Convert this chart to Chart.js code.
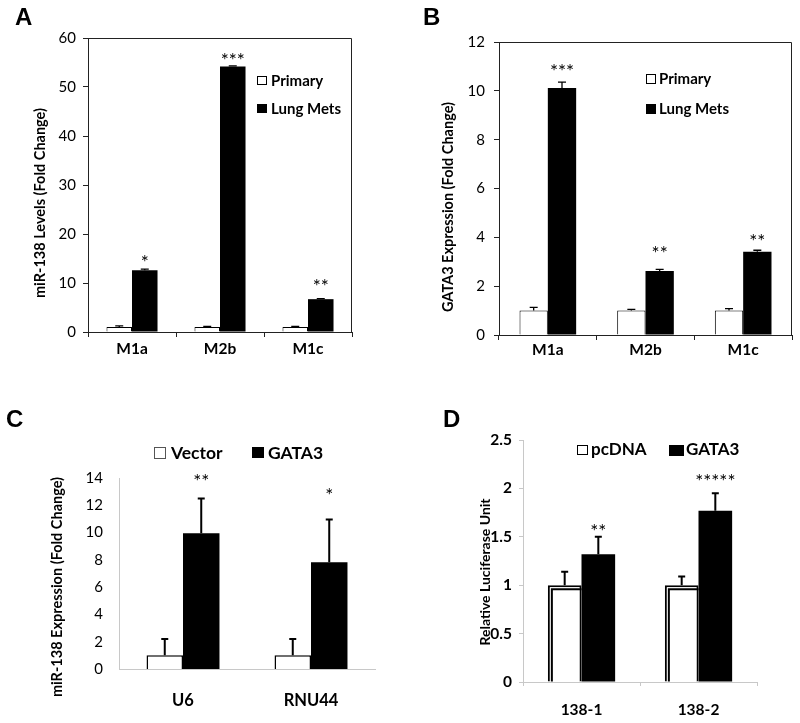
<!DOCTYPE html>
<html><head><meta charset="utf-8">
<script src="https://cdn.jsdelivr.net/npm/chart.js@4.4.1/dist/chart.umd.min.js"></script>
<style>
html,body{margin:0;padding:0;background:#fff;}
#wrap{position:relative;width:800px;height:723px;overflow:hidden;background:#fff;}
canvas{position:absolute;}
.lt{position:absolute;font-family:'Liberation Sans',Arial,sans-serif;font-weight:bold;font-size:24px;line-height:1;color:#000;}
</style></head><body>
<div id="wrap">
<canvas id="cA" width="400" height="360" style="left:0;top:0;width:400px;height:360px"></canvas>
<canvas id="cB" width="400" height="360" style="left:400px;top:0;width:400px;height:360px"></canvas>
<canvas id="cC" width="400" height="363" style="left:0;top:360px;width:400px;height:363px"></canvas>
<canvas id="cD" width="400" height="363" style="left:400px;top:360px;width:400px;height:363px"></canvas>
<div class="lt" style="left:15px;top:5px">A</div>
<div class="lt" style="left:423px;top:5px">B</div>
<div class="lt" style="left:6px;top:407px">C</div>
<div class="lt" style="left:443px;top:407px">D</div>
</div>
<script>
// ---------- DATA ----------
// Panel A
const categoriesA = ['M1a', 'M2b', 'M1c'];
const primaryA = [1, 1, 1];
const primaryErrA = [0.25, 0.12, 0.15];
const lungMetsA = [12.6, 54.2, 6.7];
const lungMetsErrA = [0.25, 0.1, 0.1];
const starsA = ['*', '***', '**'];
const starAnchorA = [15.0, 56.1, 10.1];
const yTicksA = { min: 0, max: 60, step: 10 };

// Panel B
const categoriesB = ['M1a', 'M2b', 'M1c'];
const primaryB = [1, 1, 1];
const primaryErrB = [0.13, 0.05, 0.08];
const lungMetsB = [10.12, 2.62, 3.41];
const lungMetsErrB = [0.24, 0.07, 0.06];
const starsB = ['***', '**', '**'];
const starAnchorB = [10.92, 3.48, 3.97];
const yTicksB = { min: 0, max: 12, step: 2 };

// Panel C
const categoriesC = ['U6', 'RNU44'];
const vectorC = [1, 1];
const vectorErrC = [1.2, 1.2];
const gata3C = [9.95, 7.82];
const gata3ErrC = [2.55, 3.13];
const starsC = ['**', '*'];
const starAnchorC = [14.02, 13.0];
const yTicksC = { min: 0, max: 14, step: 2 };

// Panel D
const categoriesD = ['138-1', '138-2'];
const pcdnaD = [1, 1];
const pcdnaErrD = [0.14, 0.09];
const gata3D = [1.32, 1.77];
const gata3ErrD = [0.18, 0.18];
const starsD = ['**', '*****'];
const starAnchorD = [1.59, 2.11];
const yTicksD = { min: 0, max: 2.5, step: 0.5 };

// ---------- DECORATION PLUGIN ----------
const decorPlugin = {
  id: 'decor',
  afterDatasetsDraw(chart, args, o) {
    const ctx = chart.ctx, ys = chart.scales.y, ca = chart.chartArea;
    ctx.save();
    if (o.frame) {
      ctx.strokeStyle = o.frame; ctx.lineWidth = 1;
      ctx.beginPath();
      ctx.moveTo(Math.round(ca.left) + 0.5, Math.round(ca.top) + 0.5);
      ctx.lineTo(Math.round(ca.right) - 0.5, Math.round(ca.top) + 0.5);
      ctx.lineTo(Math.round(ca.right) - 0.5, Math.round(ca.bottom));
      ctx.stroke();
    }
    chart.data.datasets.forEach((ds, di) => {
      const meta = chart.getDatasetMeta(di);
      meta.data.forEach((el, i) => {
        const p = el.getProps(['x', 'y', 'base', 'width'], true);
        if (ds.innerLine) {
          const off = ds.innerLine;
          const left = p.x - p.width / 2, right = p.x + p.width / 2;
          ctx.strokeStyle = '#000'; ctx.lineWidth = 2;
          ctx.beginPath();
          ctx.moveTo(left + off + 1, p.base);
          ctx.lineTo(left + off + 1, p.y + off + 1);
          ctx.lineTo(right, p.y + off + 1);
          ctx.stroke();
        }
        if (ds.errors) {
          const yTop = ys.getPixelForValue(ds.data[i] + ds.errors[i]);
          ctx.strokeStyle = '#000'; ctx.lineWidth = o.errWidth;
          ctx.beginPath();
          ctx.moveTo(p.x, p.y);
          ctx.lineTo(p.x, yTop);
          ctx.moveTo(p.x - o.capWidth / 2, yTop);
          ctx.lineTo(p.x + o.capWidth / 2, yTop);
          ctx.stroke();
        }
      });
    });
    ctx.restore();
  },
  afterDraw(chart, args, o) {
    const ctx = chart.ctx, ys = chart.scales.y;
    ctx.save();
    if (o.stars) {
      const meta = chart.getDatasetMeta(o.stars.dataset);
      ctx.font = o.stars.font; ctx.fillStyle = '#000';
      ctx.textAlign = 'center'; ctx.textBaseline = 'middle';
      o.stars.labels.forEach((s, i) => {
        const x = meta.data[i].x;
        const y = ys.getPixelForValue(o.stars.anchors[i]);
        ctx.fillText(s, x, y + o.stars.dy);
      });
    }
    if (o.legend) {
      ctx.font = o.legend.font; ctx.textAlign = 'left'; ctx.textBaseline = 'middle';
      o.legend.items.forEach(it => {
        const ds = chart.data.datasets[it.ds];
        ctx.fillStyle = ds.backgroundColor;
        ctx.fillRect(it.bx, it.by, it.bw, it.bh);
        ctx.strokeStyle = it.stroke; ctx.lineWidth = 1;
        ctx.strokeRect(it.bx + 0.5, it.by + 0.5, it.bw - 1, it.bh - 1);
        ctx.fillStyle = '#000';
        ctx.fillText(ds.label, it.tx, it.ty);
      });
    }
    if (o.yTitle) {
      ctx.translate(o.yTitle.x, o.yTitle.y);
      ctx.rotate(-Math.PI / 2);
      ctx.font = o.yTitle.font; ctx.fillStyle = '#000';
      ctx.textAlign = 'center'; ctx.textBaseline = 'middle';
      ctx.fillText(o.yTitle.text, 0, 0);
    }
    ctx.restore();
  }
};

function panel(id, o) {
  const W = o.w, H = o.h, ca = o.area, xH = o.xAxisH;
  return new Chart(document.getElementById(id), {
    type: 'bar',
    data: { labels: o.labels, datasets: o.datasets },
    options: {
      responsive: false, animation: false, devicePixelRatio: 1,
      layout: { padding: { left: 0, top: ca.t, right: W - ca.r, bottom: H - ca.b - xH } },
      plugins: { legend: { display: false }, tooltip: { enabled: false }, decor: o.decor },
      datasets: { bar: { categoryPercentage: o.catPct, barPercentage: 1 } },
      scales: {
        x: {
          afterFit: s => { s.height = xH; },
          grid: { display: o.xTicks.len > 0, drawOnChartArea: false, drawTicks: true, tickLength: o.xTicks.len, color: o.axisColor, offset: true },
          border: { display: true, color: o.axisColor, width: 1 },
          ticks: { font: o.xTicks.font, color: '#000', padding: o.xTicks.pad }
        },
        y: {
          min: o.yTicks.min, max: o.yTicks.max,
          afterFit: s => { s.width = ca.l; },
          grid: { display: o.yTickLen > 0, drawOnChartArea: false, drawTicks: true, tickLength: o.yTickLen, color: o.axisColor },
          border: { display: true, color: o.axisColor, width: 1 },
          ticks: { stepSize: o.yTicks.step, font: o.yFont, color: '#000', padding: o.yPad,
                   callback: v => String(Math.round(v * 100) / 100) }
        }
      }
    },
    plugins: [decorPlugin]
  });
}

const F = 'Lato, "Open Sans", sans-serif';

// Panel A
panel('cA', {
  w: 400, h: 360, area: { l: 88, t: 38, r: 352, b: 332 }, xAxisH: 22, catPct: 0.58,
  axisColor: '#222', yTickLen: 5, yPad: 7, yTicks: yTicksA,
  yFont: { family: F, size: 15 },
  xTicks: { len: 5, pad: 3, font: { family: F, size: 15.5, weight: 'bold' } },
  labels: categoriesA,
  datasets: [
    { label: 'Primary', data: primaryA, errors: primaryErrA, backgroundColor: '#fff', borderColor: '#000', borderWidth: 1 },
    { label: 'Lung Mets', data: lungMetsA, errors: lungMetsErrA, backgroundColor: '#000', borderColor: '#000', borderWidth: 0 }
  ],
  decor: {
    frame: '#222', errWidth: 1.3, capWidth: 8,
    stars: { dataset: 1, labels: starsA, anchors: starAnchorA, font: '19px ' + F, dy: 4 },
    legend: { font: 'bold 15px ' + F, items: [
      { ds: 0, bx: 257, by: 76, bw: 10, bh: 9, tx: 271, ty: 81, stroke: '#000' },
      { ds: 1, bx: 257, by: 104, bw: 10, bh: 9, tx: 271, ty: 109, stroke: '#000' }
    ] },
    yTitle: { text: 'miR-138 Levels (Fold Change)', x: 40, y: 203, font: 'bold 14.5px ' + F }
  }
});

// Panel B
panel('cB', {
  w: 400, h: 360, area: { l: 99, t: 42, r: 392, b: 335 }, xAxisH: 22, catPct: 0.58,
  axisColor: '#222', yTickLen: 5, yPad: 9, yTicks: yTicksB,
  yFont: { family: F, size: 15 },
  xTicks: { len: 5, pad: 1, font: { family: F, size: 15.5, weight: 'bold' } },
  labels: categoriesB,
  datasets: [
    { label: 'Primary', data: primaryB, errors: primaryErrB, backgroundColor: '#fff', borderColor: '#000', borderWidth: 1 },
    { label: 'Lung Mets', data: lungMetsB, errors: lungMetsErrB, backgroundColor: '#000', borderColor: '#000', borderWidth: 0 }
  ],
  decor: {
    frame: '#222', errWidth: 1.3, capWidth: 8,
    stars: { dataset: 1, labels: starsB, anchors: starAnchorB, font: '19px ' + F, dy: 4 },
    legend: { font: 'bold 15px ' + F, items: [
      { ds: 0, bx: 246, by: 74, bw: 10, bh: 10, tx: 259, ty: 79, stroke: '#000' },
      { ds: 1, bx: 246, by: 104, bw: 10, bh: 10, tx: 259, ty: 109, stroke: '#000' }
    ] },
    yTitle: { text: 'GATA3 Expression (Fold Change)', x: 48, y: 207, font: 'bold 14.5px ' + F }
  }
});

// Panel C
panel('cC', {
  w: 400, h: 363, area: { l: 119, t: 118, r: 375, b: 309 }, xAxisH: 45, catPct: 0.57,
  axisColor: '#c8c8c8', yTickLen: 0, yPad: 16, yTicks: yTicksC,
  yFont: { family: F, size: 15 },
  xTicks: { len: 0, pad: 22, font: { family: F, size: 16.5, weight: 'bold' } },
  labels: categoriesC,
  datasets: [
    { label: 'Vector', data: vectorC, errors: vectorErrC, backgroundColor: '#fff', borderColor: '#000', borderWidth: 1.5 },
    { label: 'GATA3', data: gata3C, errors: gata3ErrC, backgroundColor: '#000', borderColor: '#000', borderWidth: 0 }
  ],
  decor: {
    errWidth: 2, capWidth: 7,
    stars: { dataset: 1, labels: starsC, anchors: starAnchorC, font: '19px ' + F, dy: 4 },
    legend: { font: 'bold 17.5px ' + F, items: [
      { ds: 0, bx: 154, by: 87, bw: 12, bh: 12, tx: 171, ty: 93, stroke: '#555' },
      { ds: 1, bx: 252, by: 87, bw: 12, bh: 11, tx: 268, ty: 93, stroke: '#000' }
    ] },
    yTitle: { text: 'miR-138 Expression (Fold Change)', x: 57, y: 227, font: 'bold 14.5px ' + F }
  }
});

// Panel D
panel('cD', {
  w: 400, h: 363, area: { l: 123, t: 80, r: 357, b: 322 }, xAxisH: 40, catPct: 0.575,
  axisColor: '#c8c8c8', yTickLen: 4, yPad: 7, yTicks: yTicksD,
  yFont: { family: F, size: 15.5, weight: 'bold' },
  xTicks: { len: 4, pad: 15, font: { family: F, size: 15.5, weight: 'bold' } },
  labels: categoriesD,
  datasets: [
    { label: 'pcDNA', data: pcdnaD, errors: pcdnaErrD, innerLine: 3, backgroundColor: '#fff', borderColor: '#000', borderWidth: 2 },
    { label: 'GATA3', data: gata3D, errors: gata3ErrD, backgroundColor: '#000', borderColor: '#000', borderWidth: 0 }
  ],
  decor: {
    errWidth: 2, capWidth: 7,
    stars: { dataset: 1, labels: starsD, anchors: starAnchorD, font: '19px ' + F, dy: 4 },
    legend: { font: 'bold 17px ' + F, items: [
      { ds: 0, bx: 177, by: 85, bw: 11, bh: 10, tx: 191, ty: 90, stroke: '#000' },
      { ds: 1, bx: 269, by: 85, bw: 15, bh: 11, tx: 286, ty: 90, stroke: '#000' }
    ] },
    yTitle: { text: 'Relative Luciferase Unit', x: 85, y: 212, font: 'bold 14px ' + F }
  }
});
</script>
</body></html>
